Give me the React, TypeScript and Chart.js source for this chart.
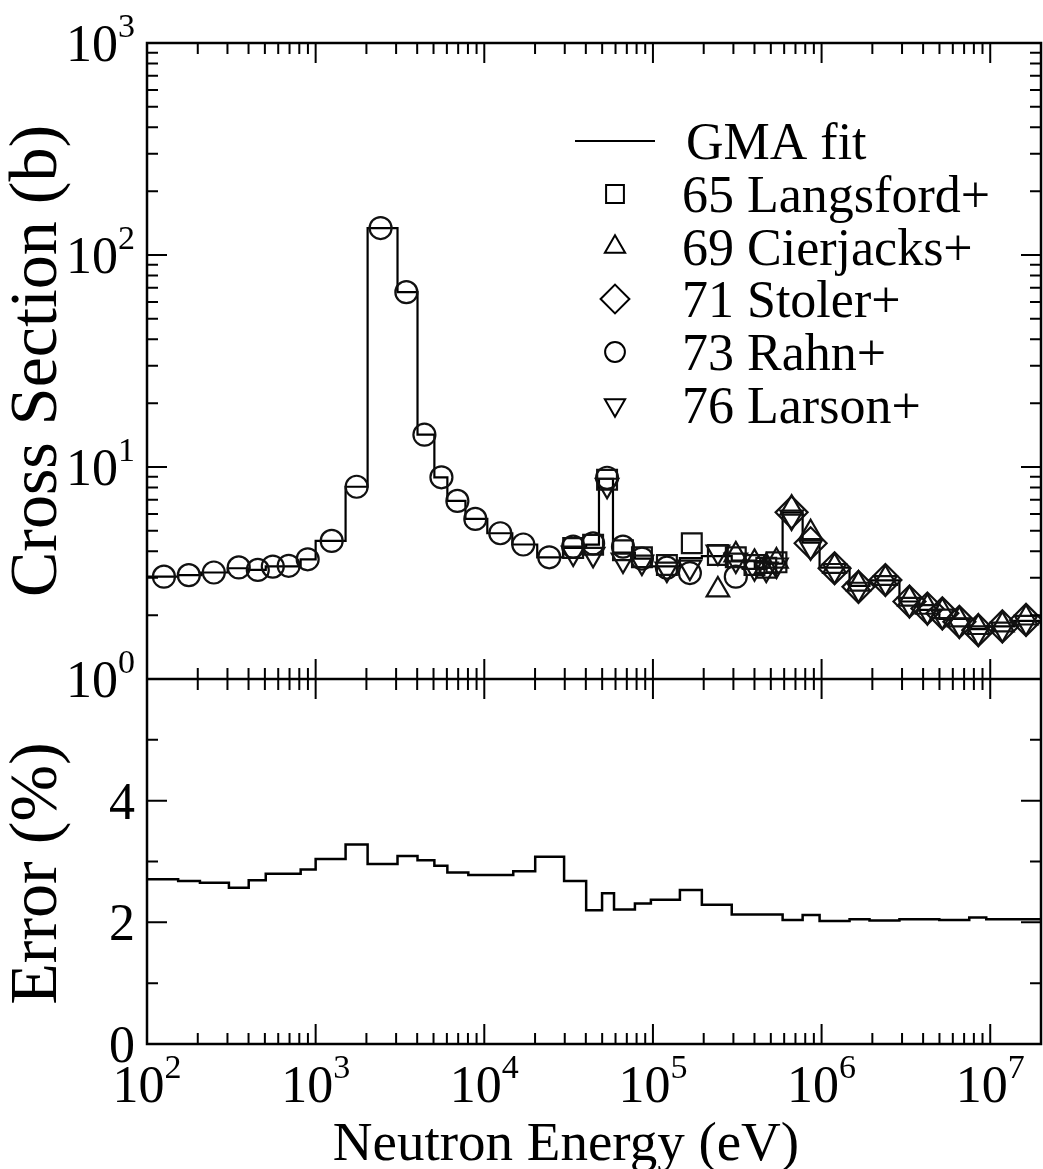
import React, { useEffect, useRef } from 'react';
import { Chart, registerables } from 'chart.js';
import { drawPoint } from 'chart.js/helpers';

Chart.register(...registerables);

// ---------------- data ----------------
const xTickValues = [1e2, 1e3, 1e4, 1e5, 1e6, 1e7];
const xTickExps = ['2', '3', '4', '5', '6', '7'];
const csTickValues = [1, 10, 100, 1000];
const csTickExps = ['0', '1', '2', '3'];
const errTickValues = [0, 2, 4];

// GMA fit (cross section, b) : group edges (eV) and values
const fitEdges = [100, 153, 209, 301, 396, 506, 815, 1000, 1505, 2033, 3058, 4018, 5058, 6039, 7730, 10420, 14660, 20600, 29300, 40180, 47860, 57950, 78190, 97230, 144500, 195000, 293200, 401800, 492500, 587400, 772000, 973000, 1465000, 1924000, 2895000, 3800000, 4990000, 7510000, 9470000, 13870000, 20000000];
const fitValues = [3.04, 3.09, 3.18, 3.33, 3.27, 3.40, 3.67, 4.48, 8.07, 134, 66.8, 14.2, 8.94, 6.92, 5.69, 4.87, 4.31, 3.75, 4.15, 4.30, 8.8, 3.95, 3.70, 3.40, 3.72, 3.80, 3.62, 3.35, 3.50, 6.1, 4.4, 3.35, 2.75, 2.92, 2.32, 2.12, 1.92, 1.72, 1.77, 1.88];

// Error (%) : group edges (eV) and values
const errEdges = [100, 153, 206, 306, 401, 506, 815, 1000, 1505, 2033, 3058, 4018, 5058, 6039, 8041, 14850, 20040, 29730, 40180, 49930, 58780, 78190, 97230, 144500, 195000, 293200, 587400, 772000, 973000, 1465000, 1924000, 2895000, 3800000, 4990000, 7510000, 9470000, 20000000];
const errValues = [2.71, 2.68, 2.65, 2.57, 2.69, 2.80, 2.87, 3.04, 3.28, 2.96, 3.09, 3.02, 2.93, 2.82, 2.78, 2.84, 3.08, 2.68, 2.20, 2.48, 2.21, 2.31, 2.37, 2.53, 2.29, 2.13, 2.04, 2.12, 2.02, 2.05, 2.03, 2.05, 2.05, 2.04, 2.08, 2.05];

// experimental data
const langsfordE = [33650, 44180, 53460, 66430, 86050, 121000, 170000, 242700, 310000, 400000, 470000, 540000];
const langsfordCS = [4.15, 4.30, 8.7, 4.05, 3.75, 3.45, 4.37, 3.85, 3.75, 3.45, 3.35, 3.55];

const cierjacksE = [242700, 310000, 400000, 470000, 540000, 664000, 861000, 1194000, 1655000, 2390000, 3320000, 4240000, 5200000, 6560000, 8500000, 11800000, 16300000];
const cierjacksCS = [2.63, 3.85, 3.55, 3.40, 3.60, 6.4, 4.9, 3.40, 2.80, 2.98, 2.38, 2.18, 2.08, 1.90, 1.75, 1.80, 1.94];

const stolerE = [664000, 861000, 1194000, 1655000, 2390000, 3320000, 4240000, 5200000, 6560000, 8500000, 11800000, 16300000];
const stolerCS = [6.11, 4.37, 3.33, 2.72, 2.93, 2.32, 2.15, 2.04, 1.86, 1.70, 1.77, 1.90];

const rahnE = [126, 177, 249, 350, 454, 557, 692, 897, 1245, 1750, 2427, 3451, 4415, 5570, 6925, 8846, 12440, 17030, 24270, 33650, 44180, 53460, 66430, 86050, 121000, 165600, 310000];
const rahnCS = [3.04, 3.09, 3.18, 3.36, 3.27, 3.39, 3.42, 3.67, 4.48, 8.07, 134, 66.8, 14.2, 8.94, 6.92, 5.69, 4.87, 4.31, 3.75, 4.21, 4.36, 8.9, 4.21, 3.70, 3.35, 3.16, 3.04];

const larsonE = [33650, 44180, 53460, 66430, 86050, 121000, 165600, 242700, 310000, 400000, 470000, 540000, 664000, 861000, 1194000, 1655000, 2390000, 3320000, 4240000, 5200000, 6560000, 8500000, 11800000, 16300000];
const larsonCS = [3.93, 3.87, 8.2, 3.64, 3.56, 3.30, 3.37, 3.97, 3.64, 3.35, 3.30, 3.45, 5.8, 4.2, 3.25, 2.65, 2.85, 2.25, 2.08, 1.98, 1.80, 1.65, 1.72, 1.85];

const FONT = '"Liberation Serif", "Times New Roman", serif';

const toSteps = (edges: number[], vals: number[]) =>
  edges.map((e, i) => ({ x: e, y: vals[Math.min(i, vals.length - 1)] }));
const toPoints = (xs: number[], ys: number[]) => xs.map((x, i) => ({ x, y: ys[i] }));

const markerSets = [
  { label: '65 Langsford+', E: langsfordE, CS: langsfordCS, style: 'rect', radius: 14, rotation: 0 },
  { label: '69 Cierjacks+', E: cierjacksE, CS: cierjacksCS, style: 'triangle', radius: 13, rotation: 0 },
  { label: '71 Stoler+', E: stolerE, CS: stolerCS, style: 'rectRot', radius: 16, rotation: 0 },
  { label: '73 Rahn+', E: rahnE, CS: rahnCS, style: 'circle', radius: 11, rotation: 0 },
  { label: '76 Larson+', E: larsonE, CS: larsonCS, style: 'triangle', radius: 13, rotation: 180 },
];

function drawPow(ctx: CanvasRenderingContext2D, exp: string, x: number, baseline: number, align: 'center' | 'right') {
  ctx.font = `52px ${FONT}`;
  const wb = ctx.measureText('10').width;
  ctx.font = `34px ${FONT}`;
  const we = ctx.measureText(exp).width;
  const total = wb + we;
  const start = align === 'center' ? x - total / 2 : x - total;
  ctx.textAlign = 'left';
  ctx.textBaseline = 'alphabetic';
  ctx.font = `52px ${FONT}`;
  ctx.fillText('10', start, baseline);
  ctx.font = `34px ${FONT}`;
  ctx.fillText(exp, start + wb, baseline - 24);
}

const framePlugin = {
  id: 'frame',
  afterDatasetsDraw(chart: any) {
    const ctx: CanvasRenderingContext2D = chart.ctx;
    const xs = chart.scales.x;
    const yc = chart.scales.yCs;
    const ye = chart.scales.yErr;
    const { left, right, top, bottom } = chart.chartArea;
    const mid = yc.bottom;
    ctx.save();
    ctx.strokeStyle = '#000';
    ctx.fillStyle = '#000';
    ctx.lineWidth = 2.5;
    ctx.strokeRect(left, top, right - left, bottom - top);
    ctx.beginPath();
    ctx.moveTo(left, mid);
    ctx.lineTo(right, mid);
    ctx.stroke();

    ctx.lineWidth = 2;
    ctx.beginPath();
    // x ticks (log)
    for (let d = 2; d <= 7; d++) {
      for (let m = 1; m <= 9; m++) {
        const v = m * Math.pow(10, d);
        if (v > xs.max) break;
        const px = xs.getPixelForValue(v);
        const len = m === 1 ? 20 : 11;
        ctx.moveTo(px, top); ctx.lineTo(px, top + len);
        ctx.moveTo(px, mid - len); ctx.lineTo(px, mid + len);
        ctx.moveTo(px, bottom); ctx.lineTo(px, bottom - len);
      }
    }
    // y ticks top panel (log)
    for (let d = 0; d <= 2; d++) {
      for (let m = 1; m <= 9; m++) {
        const v = m * Math.pow(10, d);
        const py = yc.getPixelForValue(v);
        const len = m === 1 ? 20 : 11;
        ctx.moveTo(left, py); ctx.lineTo(left + len, py);
        ctx.moveTo(right, py); ctx.lineTo(right - len, py);
      }
    }
    // y ticks bottom panel
    for (let v = 1; v <= 5; v++) {
      const py = ye.getPixelForValue(v);
      const len = v % 2 === 0 ? 20 : 11;
      ctx.moveTo(left, py); ctx.lineTo(left + len, py);
      ctx.moveTo(right, py); ctx.lineTo(right - len, py);
    }
    ctx.stroke();

    // tick labels
    csTickValues.forEach((v, i) => {
      const py = yc.getPixelForValue(v);
      drawPow(ctx, csTickExps[i], left - 12, py + 18, 'right');
    });
    ctx.font = `52px ${FONT}`;
    ctx.textAlign = 'right';
    ctx.textBaseline = 'alphabetic';
    errTickValues.forEach((v) => {
      const py = ye.getPixelForValue(v);
      ctx.fillText(String(v), left - 12, py + 18);
    });
    xTickValues.forEach((v, i) => {
      const px = xs.getPixelForValue(v);
      drawPow(ctx, xTickExps[i], px, bottom + 58, 'center');
    });

    // axis titles
    ctx.font = `55px ${FONT}`;
    ctx.textAlign = 'center';
    ctx.textBaseline = 'alphabetic';
    ctx.fillText('Neutron Energy (eV)', 566, bottom + 116);

    ctx.font = `68px ${FONT}`;
    ctx.textBaseline = 'middle';
    ctx.save();
    ctx.translate(38, (yc.top + yc.bottom) / 2);
    ctx.rotate(-Math.PI / 2);
    ctx.fillText('Cross Section (b)', 0, 0);
    ctx.restore();
    ctx.save();
    ctx.translate(38, (ye.top + ye.bottom) / 2 + 12);
    ctx.rotate(-Math.PI / 2);
    ctx.fillText('Error (%)', 0, 0);
    ctx.restore();

    // legend
    const rowY = [141, 194, 247, 299, 352, 405];
    const markX = 615;
    const textX = 682;
    ctx.lineWidth = 2;
    ctx.beginPath();
    ctx.moveTo(575, rowY[0]);
    ctx.lineTo(655, rowY[0]);
    ctx.stroke();
    ctx.font = `52px ${FONT}`;
    ctx.textAlign = 'left';
    ctx.textBaseline = 'alphabetic';
    ctx.fillText('GMA fit', textX + 4, rowY[0] + 18);
    markerSets.forEach((s, i) => {
      const y = rowY[i + 1];
      ctx.fillStyle = 'rgba(0,0,0,0)';
      ctx.strokeStyle = '#000';
      ctx.lineWidth = 2;
      drawPoint(ctx, { pointStyle: s.style, rotation: s.rotation, radius: s.radius * 0.9, borderWidth: 2 } as any, markX, y);
      ctx.fillStyle = '#000';
      ctx.fillText(s.label, textX, y + 18);
    });
    ctx.restore();
  },
};

export default function App() {
  const ref = useRef<HTMLCanvasElement>(null);
  useEffect(() => {
    document.body.style.margin = '0';
    const canvas = ref.current;
    if (!canvas) return;
    const datasets: any[] = [
      {
        label: 'GMA fit',
        data: toSteps(fitEdges, fitValues),
        yAxisID: 'yCs',
        stepped: 'before',
        borderColor: '#000',
        borderWidth: 2.2,
        pointRadius: 0,
        fill: false,
        order: 10,
      },
      ...markerSets.map((s) => ({
        label: s.label,
        data: toPoints(s.E, s.CS),
        yAxisID: 'yCs',
        showLine: false,
        pointStyle: s.style,
        pointRotation: s.rotation,
        pointRadius: s.radius,
        pointBorderWidth: 2.2,
        borderColor: '#000',
        pointBorderColor: '#111',
        pointBackgroundColor: 'rgba(0,0,0,0)',
        backgroundColor: 'rgba(0,0,0,0)',
        order: 1,
      })),
      {
        label: 'Error',
        data: toSteps(errEdges, errValues),
        yAxisID: 'yErr',
        stepped: 'before',
        borderColor: '#000',
        borderWidth: 2.5,
        pointRadius: 0,
        fill: false,
      },
    ];
    const chart = new Chart(canvas, {
      type: 'line',
      data: { datasets },
      options: {
        responsive: false,
        animation: false,
        events: [],
        layout: { autoPadding: false, padding: { left: 147, right: 2, top: 43, bottom: 125 } },
        plugins: { legend: { display: false }, tooltip: { enabled: false } },
        scales: {
          x: { type: 'logarithmic', min: 100, max: 2e7, display: false },
          yErr: { type: 'linear', min: 0, max: 6, display: false, position: 'left', stack: 'v', stackWeight: 365 },
          yCs: { type: 'logarithmic', min: 1, max: 1000, display: false, position: 'left', stack: 'v', stackWeight: 636 },
        },
      } as any,
      plugins: [framePlugin],
    });
    return () => chart.destroy();
  }, []);
  return (
    <div style={{ width: 1043, height: 1169, background: '#fff' }}>
      <canvas ref={ref} width={1043} height={1169} style={{ display: 'block' }} />
    </div>
  );
}
